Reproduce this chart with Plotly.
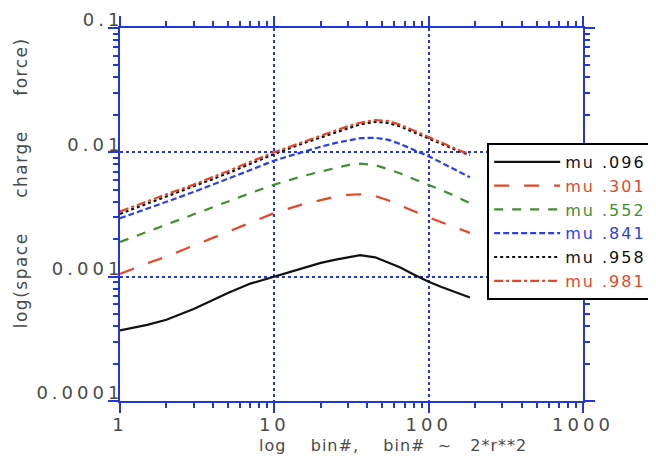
import plotly.graph_objects as go

# ---- data ----
bins = [1, 1.5, 2, 3, 4, 5, 7, 10, 15, 20, 25, 30, 36, 45, 55, 65, 80, 100, 120, 140, 160, 185]

mu_096 = [3.7e-4, 4.1e-4, 4.5e-4, 5.5e-4, 6.5e-4, 7.4e-4, 8.8e-4, 1.0e-3, 1.17e-3, 1.29e-3, 1.37e-3,
          1.42e-3, 1.49e-3, 1.43e-3, 1.3e-3, 1.19e-3, 1.04e-3, 9.1e-4, 8.3e-4, 7.7e-4, 7.2e-4, 6.8e-4]
mu_301 = [1.05e-3, 1.28e-3, 1.45e-3, 1.78e-3, 2.05e-3, 2.3e-3, 2.75e-3, 3.25e-3, 3.8e-3, 4.15e-3, 4.4e-3,
          4.55e-3, 4.6e-3, 4.45e-3, 4.1e-3, 3.75e-3, 3.35e-3, 3.0e-3, 2.75e-3, 2.55e-3, 2.4e-3, 2.25e-3]
mu_552 = [1.9e-3, 2.3e-3, 2.6e-3, 3.15e-3, 3.6e-3, 4.0e-3, 4.7e-3, 5.5e-3, 6.4e-3, 7.0e-3, 7.5e-3,
          7.9e-3, 8.1e-3, 7.9e-3, 7.3e-3, 6.8e-3, 6.1e-3, 5.5e-3, 5.0e-3, 4.6e-3, 4.25e-3, 3.9e-3]
mu_841 = [2.95e-3, 3.5e-3, 4.0e-3, 4.8e-3, 5.5e-3, 6.1e-3, 7.2e-3, 8.6e-3, 1.0e-2, 1.11e-2, 1.19e-2,
          1.25e-2, 1.3e-2, 1.31e-2, 1.26e-2, 1.17e-2, 1.05e-2, 9.3e-3, 8.3e-3, 7.5e-3, 6.9e-3, 6.3e-3]
mu_958 = [3.2e-3, 3.85e-3, 4.4e-3, 5.3e-3, 6.1e-3, 6.8e-3, 8.1e-3, 9.7e-3, 1.17e-2, 1.32e-2, 1.45e-2,
          1.57e-2, 1.68e-2, 1.76e-2, 1.72e-2, 1.62e-2, 1.45e-2, 1.3e-2, 1.17e-2, 1.08e-2, 1.01e-2, 9.5e-3]
mu_981 = [3.35e-3, 4.0e-3, 4.6e-3, 5.5e-3, 6.3e-3, 7.05e-3, 8.4e-3, 1.0e-2, 1.2e-2, 1.36e-2, 1.5e-2,
          1.62e-2, 1.73e-2, 1.82e-2, 1.78e-2, 1.67e-2, 1.5e-2, 1.33e-2, 1.2e-2, 1.1e-2, 1.03e-2, 9.7e-3]

labels = ["mu .096", "mu .301", "mu .552", "mu .841", "mu .958", "mu .981"]
x_ticks = [1, 10, 100, 1000]
x_ticktext = ["1", "10", "100", "1000"]
y_ticks = [1e-4, 1e-3, 1e-2, 1e-1]
y_ticktext = ["0.0001", "0.001", "0.01", "0.1"]

# ---- styles ----
BLUE_AX = "#2236e0"
RED = "#e5472a"
GREEN = "#3f8f2f"
BLUE = "#2a3fe8"
BLACK = "#111111"
GRAY = "#4a4a4a"
LS_TICK = "letter-spacing:4px"

series = [mu_096, mu_301, mu_552, mu_841, mu_958, mu_981]
colors = [BLACK, RED, GREEN, BLUE, BLACK, RED]
dashes = ["solid", "longdash", "dash", "6px,3px", "dot", "dashdot"]

fig = go.Figure()
for vals, lab, col, dash in zip(series, labels, colors, dashes):
    fig.add_trace(go.Scatter(
        x=bins, y=vals, mode="lines",
        name=f'<span style="color:{col};letter-spacing:2px">{lab}</span>',
        line=dict(color=col, width=2.2, dash=dash),
    ))

axis_common = dict(
    type="log", showline=True, linecolor=BLUE_AX, linewidth=2, mirror="allticks",
    ticks="outside", ticklen=10, tickwidth=1.5, tickcolor=BLUE_AX,
    showgrid=True, gridcolor=BLUE_AX, gridwidth=1.5, griddash="dot",
    zeroline=False, automargin=False, ticklabeloverflow="allow",
    tickfont=dict(family="DejaVu Sans", size=18, color=GRAY),
    minor=dict(ticks="outside", ticklen=5, tickwidth=1.5, tickcolor=BLUE_AX, dtick="D1", showgrid=False),
)

fig.update_xaxes(range=[0, 3], tickvals=x_ticks,
                 ticktext=[f'<span style="{LS_TICK}">{t}</span>' for t in x_ticktext],
                 ticklabelstandoff=-4, **axis_common)
fig.update_yaxes(range=[-4, -1], tickvals=y_ticks,
                 ticktext=[f'<span style="{LS_TICK}">{t}</span>' for t in y_ticktext],
                 ticklabelposition="outside", ticklabelshift=-8, ticklabelstandoff=-19, **axis_common)

NB = "\u00a0"
xtitle = f"log{NB*4}bin#,{NB*4}bin#{NB*2}~{NB*3}2*r**2"
ytitle = f"log(space{NB*5}charge{NB*5}force)"
fig.add_annotation(text=f'<span style="letter-spacing:1px">{xtitle}</span>', xref="paper", yref="paper",
                   x=0.59, y=-0.12, showarrow=False, yanchor="middle",
                   font=dict(family="DejaVu Sans", size=16, color=GRAY))
fig.add_annotation(text=f'<span style="letter-spacing:1.5px">{ytitle}</span>', xref="paper", yref="paper",
                   x=-0.215, y=0.585, textangle=-90, showarrow=False, xanchor="center",
                   font=dict(family="DejaVu Sans", size=17, color=GRAY))

fig.update_layout(
    width=648, height=455,
    margin=dict(l=112, r=73, t=20, b=62, autoexpand=False),
    paper_bgcolor="white", plot_bgcolor="white",
    showlegend=True,
    legend=dict(x=0.793, y=0.692, xanchor="left", yanchor="top",
                bgcolor="white", bordercolor="black", borderwidth=2,
                font=dict(family="DejaVu Sans", size=16, color=BLACK),
                itemwidth=66, tracegroupgap=0),
)

fig.write_html("out.html")
